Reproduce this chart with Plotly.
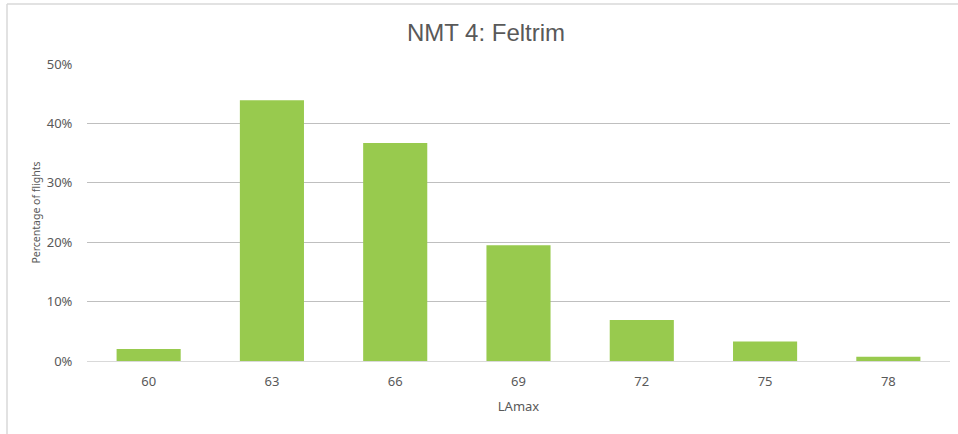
import plotly.graph_objects as go

# LAmax bins (dB) and share of flights in each bin (%)
lamax_bins = ["60", "63", "66", "69", "72", "75", "78"]
pct_flights = [2.0, 43.9, 36.7, 19.5, 6.9, 3.3, 0.7]
y_ticks = [0, 10, 20, 30, 40, 50]
y_tick_labels = ["0%", "10%", "20%", "30%", "40%", "50%"]

W, H = 958, 434
L, R, T, B = 87, 8, 64, 73
plot_w = W - L - R
plot_h = H - T - B

fig = go.Figure(
    go.Bar(
        x=lamax_bins,
        y=pct_flights,
        marker=dict(color="#98CA4E", line=dict(width=0)),
        hoverinfo="x+y",
    )
)

font_family = "Noto Sans, DejaVu Sans, sans-serif"
axis_font = dict(family=font_family, size=13, color="#595959")

fig.update_layout(
    width=W,
    height=H,
    margin=dict(l=L, r=R, t=T, b=B),
    paper_bgcolor="white",
    plot_bgcolor="white",
    bargap=0.48,
    showlegend=False,
    title=dict(
        text="NMT 4: Feltrim",
        x=486 / W,
        xanchor="center",
        y=1 - 33 / H,
        yanchor="middle",
        font=dict(family="Liberation Sans, Arial, sans-serif", size=24, color="#595959"),
    ),
    xaxis=dict(
        type="category",
        tickfont=axis_font,
        showgrid=False,
        showline=True,
        linecolor="#D9D9D9",
        linewidth=1,
        ticks="outside",
        ticklen=8,
        tickcolor="rgba(0,0,0,0)",
        title=dict(text="LAmax", font=dict(family=font_family, size=13, color="#595959"),
                   standoff=13),
    ),
    yaxis=dict(
        range=[0, 50],
        tickvals=y_ticks,
        ticktext=y_tick_labels,
        tickfont=axis_font,
        showgrid=True,
        gridcolor="#BFBFBF",
        gridwidth=1,
        zeroline=False,
        showline=False,
        ticks="outside",
        ticklen=11,
        tickcolor="rgba(0,0,0,0)",
        title=dict(text="Percentage of flights",
                   font=dict(family=font_family, size=10.5, color="#595959"),
                   standoff=4),
    ),
    shapes=[
        # chart-area frame (left and top edges)
        dict(type="line", xref="paper", yref="paper",
             x0=(7 - L) / plot_w, x1=(W + 5 - L) / plot_w,
             y0=(H - B - 4) / plot_h, y1=(H - B - 4) / plot_h,
             line=dict(color="#D9D9D9", width=1.5)),
        dict(type="line", xref="paper", yref="paper",
             x0=(7 - L) / plot_w, x1=(7 - L) / plot_w,
             y0=(H - B - 4) / plot_h, y1=-(B + 5) / plot_h,
             line=dict(color="#D9D9D9", width=1.5)),
    ],
)

fig.write_html("out.html")
